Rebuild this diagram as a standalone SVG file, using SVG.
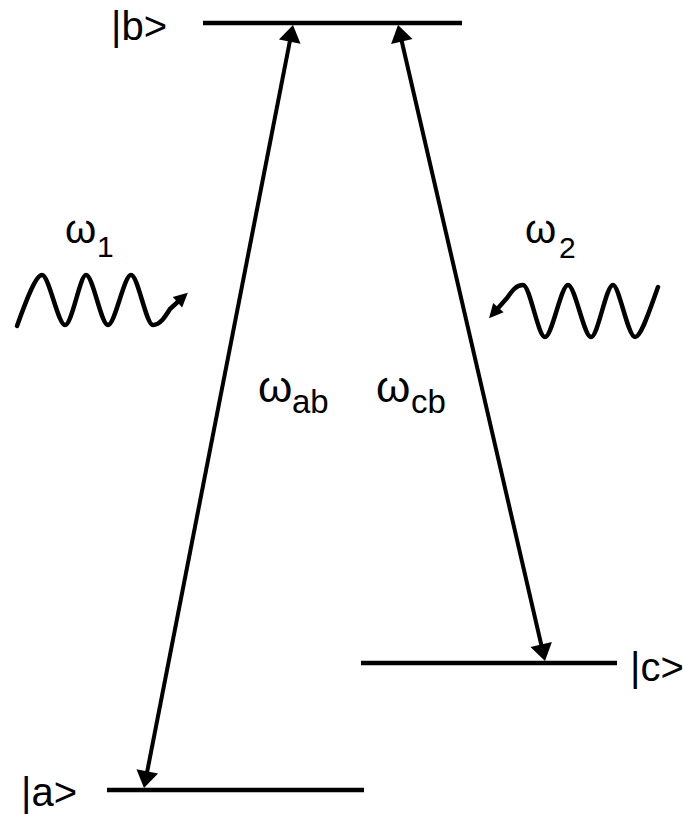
<svg xmlns="http://www.w3.org/2000/svg" width="683" height="814" viewBox="0 0 683 814">
<style>
.lvl{stroke:#000;stroke-width:4.5;fill:none}
.arr{stroke:#000;stroke-width:4;fill:none}
.wave{stroke:#000;stroke-width:4.5;fill:none;stroke-linecap:round;stroke-linejoin:round}
.t{font-family:"Liberation Sans",Arial,sans-serif;fill:#000}
</style>
<defs>
<marker id="ah" markerUnits="userSpaceOnUse" viewBox="-30 -14 32 28" markerWidth="32" markerHeight="28" refX="-12" refY="0" orient="auto-start-reverse">
<path d="M0,0 L-17,-11 L-17,11 Z" fill="#000"/>
</marker>
<marker id="wh" markerUnits="userSpaceOnUse" viewBox="-20 -10 22 20" markerWidth="22" markerHeight="20" refX="-8" refY="0" orient="auto">
<path d="M0,0 L-14,-7 L-14,7 Z" fill="#000"/>
</marker>
</defs>
<g id="level-b"><line class="lvl" x1="203" y1="23" x2="462" y2="23"/><text class="t" x="111" y="40" font-size="40">|b&gt;</text></g>
<g id="level-a"><line class="lvl" x1="107" y1="790" x2="364" y2="790"/><text class="t" x="21" y="806" font-size="40">|a&gt;</text></g>
<g id="level-c"><line class="lvl" x1="361" y1="663" x2="617" y2="663"/><text class="t" x="630" y="681" font-size="40">|c&gt;</text></g>
<g id="connectors">
<line class="arr" x1="290.7" y1="36.8" x2="146.3" y2="776.2" marker-start="url(#ah)" marker-end="url(#ah)"/>
<line class="arr" x1="400.7" y1="36.7" x2="542.3" y2="649.3" marker-start="url(#ah)" marker-end="url(#ah)"/>
</g>
<g id="label-wab"><text class="t" x="258" y="402" font-size="44">ω<tspan x="292" y="413" font-size="33">ab</tspan></text></g>
<g id="label-wcb"><text class="t" x="376" y="402" font-size="44">ω<tspan x="411" y="413" font-size="33">cb</tspan></text></g>
<g id="photon-1">
<path class="wave" d="M17,326 C27,298 36,275 42,275 C49,275 58,325 65,325 C72,325 80,275 86,275 C93,275 101,325 108,325 C115,325 124,275 131,275 C138,275 146,325 153,325 C160,325 165,317 170,309 L181.9,298.2" marker-end="url(#wh)"/>
<text class="t" x="65" y="243" font-size="40">ω<tspan x="97" y="257" font-size="30">1</tspan></text>
</g>
<g id="photon-2">
<path class="wave" d="M658,287 C649,312 641,337 635,337 C628,337 619,285 613,285 C606,285 598,337 591,337 C584,337 575,285 568,285 C561,285 552,337 545,337 C538,337 530,285 523,285 C516,285 512,291 507,298 L494.4,312.2" marker-end="url(#wh)"/>
<text class="t" x="525" y="243" font-size="40">ω<tspan x="559" y="258" font-size="30">2</tspan></text>
</g>
</svg>
